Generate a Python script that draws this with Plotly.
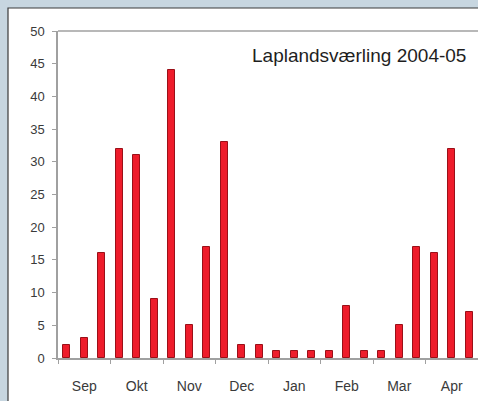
import plotly.graph_objects as go

# 10-day periods, Sep 2004 - Apr 2005
periods = list(range(24))
counts = [2, 3, 16, 32, 31, 9, 44, 5, 17, 33, 2, 2,
          1, 1, 1, 1, 8, 1, 1, 5, 17, 16, 32, 7]
months = ["Sep", "Okt", "Nov", "Dec", "Jan", "Feb", "Mar", "Apr"]
month_pos = [1, 4, 7, 10, 13, 16, 19, 22]
y_ticks = [0, 5, 10, 15, 20, 25, 30, 35, 40, 45, 50]

W, H = 478, 401
L, R, T, B = 58, 0, 31, 43
pw, ph = W - L - R, H - T - B
bg = "#c7d6e0"

def px_x(p):
    return (p - L) / pw

def px_y(p):
    return (H - B - p) / ph

font = "Liberation Sans, Arial, sans-serif"

fig = go.Figure()
fig.add_trace(go.Bar(x=periods, y=counts, width=0.4,
                     marker=dict(color="#ee1c2b", line=dict(color="#9a1018", width=1))))

# white panel with dark border behind the chart
fig.add_shape(type="rect", xref="paper", yref="paper",
              x0=px_x(8), x1=px_x(W + 5), y0=px_y(H + 5), y1=px_y(8),
              fillcolor="white", line=dict(color="#3a3a3a", width=1.2), layer="below")
# top border of plot area
fig.add_shape(type="line", xref="paper", yref="paper", x0=0, x1=1, y0=1, y1=1,
              line=dict(color="#a0a0a0", width=1.5), layer="below")

fig.add_annotation(text="Laplandsværling 2004-05", xref="paper", yref="paper",
                   x=px_x(468), y=px_y(55), xanchor="right", yanchor="middle",
                   showarrow=False, font=dict(family=font, size=19, color="#1e1e1e"))

fig.update_layout(
    width=W, height=H, margin=dict(l=L, r=R, t=T, b=B, pad=0),
    paper_bgcolor=bg, plot_bgcolor="rgba(0,0,0,0)",
    showlegend=False, bargap=0,
    font=dict(family=font, size=13, color="#3a3a3a"),
)
fig.update_xaxes(range=[-0.5, 23.5], tickvals=month_pos, ticktext=months,
                 ticks="", showgrid=False, zeroline=False,
                 showline=True, linecolor="#a0a0a0", linewidth=1.5,
                 ticklabelstandoff=14, tickfont=dict(size=14),
                 minor=dict(tick0=-0.5, dtick=3, ticks="outside", ticklen=4,
                            tickcolor="#a0a0a0", showgrid=False))
fig.update_yaxes(range=[0, 50], tickvals=y_ticks, ticks="outside", ticklen=4,
                 tickcolor="#a0a0a0", showgrid=False, zeroline=False,
                 showline=True, linecolor="#a0a0a0", linewidth=1.5,
                 ticklabelstandoff=5)

fig.write_html("out.html", config={"displayModeBar": False},
               post_script="document.body.style.margin='0';"
                           "document.body.style.overflow='hidden';"
                           f"document.body.style.background='{bg}';")
